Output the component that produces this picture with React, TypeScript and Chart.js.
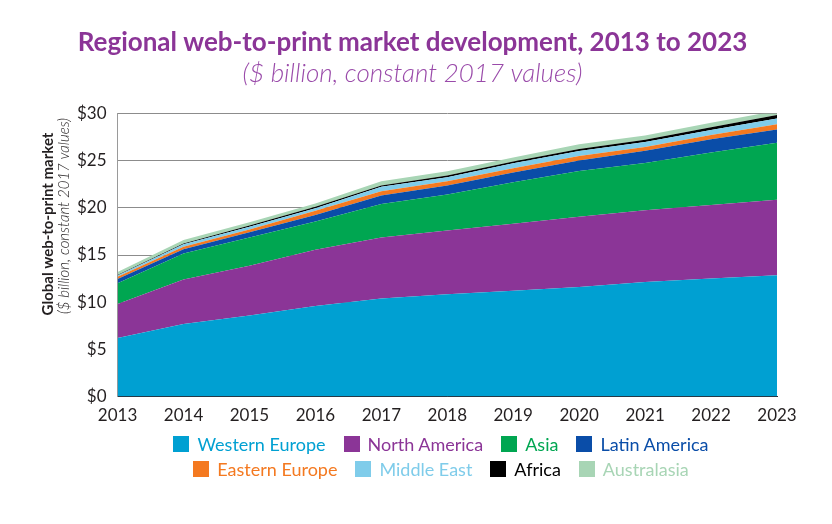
import React, { useEffect, useRef } from "react";
import { Chart, registerables } from "chart.js";

Chart.register(...registerables);

const years = ["2013", "2014", "2015", "2016", "2017", "2018", "2019", "2020", "2021", "2022", "2023"];
const westernEurope = [6.2, 7.7, 8.6, 9.6, 10.4, 10.85, 11.2, 11.6, 12.15, 12.5, 12.85];
const northAmerica = [3.6, 4.7, 5.25, 5.95, 6.45, 6.75, 7.1, 7.45, 7.6, 7.8, 8.0];
const asia = [2.2, 2.75, 3.0, 3.0, 3.55, 3.8, 4.4, 4.85, 5.0, 5.55, 6.05];
const latinAmerica = [0.45, 0.45, 0.55, 0.7, 0.9, 0.95, 1.05, 1.1, 1.3, 1.4, 1.4];
const easternEurope = [0.25, 0.28, 0.3, 0.43, 0.46, 0.46, 0.45, 0.49, 0.38, 0.46, 0.56];
const middleEast = [0.14, 0.25, 0.29, 0.28, 0.46, 0.43, 0.53, 0.53, 0.53, 0.53, 0.6];
const africa = [0.05, 0.1, 0.14, 0.14, 0.14, 0.17, 0.18, 0.21, 0.25, 0.28, 0.36];
const australasia = [0.3, 0.36, 0.35, 0.35, 0.46, 0.46, 0.43, 0.5, 0.46, 0.48, 0.46];

const seriesNames = ["Western Europe", "North America", "Asia", "Latin America", "Eastern Europe", "Middle East", "Africa", "Australasia"];
const seriesColors = ["#00A0D2", "#8B3597", "#00A651", "#0A4DA8", "#F47920", "#7FCCEA", "#000000", "#A8D5B5"];
const seriesData = [westernEurope, northAmerica, asia, latinAmerica, easternEurope, middleEast, africa, australasia];

const yTickValues = [0, 5, 10, 15, 20, 25, 30];

const titleText = "Regional web-to-print market development, 2013 to 2023";
const subtitleText = "($ billion, constant 2017 values)";
const yTitleBold = "Global web-to-print market";
const yTitleItalic = "($ billion, constant 2017 values)";

const FONT = "Lato, 'Open Sans', sans-serif";

const yTitlePlugin = {
  id: "yTitlePlugin",
  afterDraw(chart: any) {
    const ctx = chart.ctx;
    ctx.save();
    ctx.fillStyle = "#231F20";
    ctx.textAlign = "center";
    ctx.textBaseline = "middle";
    ctx.translate(48, 224);
    ctx.rotate(-Math.PI / 2);
    ctx.font = `bold 15px ${FONT}`;
    ctx.fillText(yTitleBold, 0, 0);
    ctx.font = `italic 300 15px ${FONT}`;
    ctx.fillText(yTitleItalic, 8, 16);
    ctx.restore();
  },
};

export default function App() {
  const ref = useRef<HTMLCanvasElement | null>(null);

  useEffect(() => {
    document.body.style.margin = "0";
    if (!ref.current) return;
    const chart = new Chart(ref.current, {
      type: "line",
      data: {
        labels: years,
        datasets: seriesData.map((d, i) => ({
          label: seriesNames[i],
          data: d,
          backgroundColor: seriesColors[i],
          borderColor: seriesColors[i],
          borderWidth: 0,
          pointRadius: 0,
          tension: 0,
          fill: i === 0 ? "origin" : "-1",
          clip: false as any,
        })),
      },
      options: {
        responsive: false,
        animation: false,
        layout: { padding: { left: 48, right: 55, top: 0, bottom: 3 } },
        plugins: {
          legend: { display: false },
          tooltip: { enabled: false },
          title: {
            display: true,
            text: titleText,
            color: "#8B3597",
            font: { family: FONT, size: 26, weight: "bold" },
            padding: { top: 27, bottom: 0 },
          },
          subtitle: {
            display: true,
            text: subtitleText,
            color: "#9A4BAA",
            font: { family: FONT, size: 26, weight: "300", style: "italic" },
            padding: { top: 0, bottom: 24 },
          },
        },
        scales: {
          x: {
            type: "category",
            offset: false,
            grid: { display: false, drawTicks: false },
            border: { display: true, color: "#2b2b33", width: 1 },
            ticks: { color: "#231F20", font: { family: FONT, size: 17 }, padding: 9, maxRotation: 0 },
          },
          y: {
            stacked: true,
            min: 0,
            max: 30,
            afterBuildTicks(scale: any) {
              scale.ticks = yTickValues.map((v) => ({ value: v }));
            },
            afterFit(scale: any) {
              scale.width += 18;
            },
            grid: {
              drawTicks: false,
              color: (c: any) => (c.tick && c.tick.value === 0 ? "#2b2b33" : "#8c8c8c"),
              lineWidth: 1,
            },
            border: { display: true, color: "#9a9a9a", width: 1 },
            ticks: {
              color: "#231F20",
              font: { family: FONT, size: 17 },
              padding: 11,
              callback: (v: any) => "$" + v,
            },
          },
        },
      },
      plugins: [yTitlePlugin],
    });
    return () => chart.destroy();
  }, []);

  const rows = [
    [0, 1, 2, 3],
    [4, 5, 6, 7],
  ];

  return (
    <div style={{ position: "absolute", left: 0, top: 0, width: 832, height: 524, background: "#fff" }}>
      <canvas ref={ref} width={832} height={438} style={{ display: "block" }} />
      <div style={{ position: "absolute", left: 0, top: 431, width: 832, fontFamily: FONT }}>
        {rows.map((row, ri) => (
          <div
            key={ri}
            style={{ display: "flex", justifyContent: "center", alignItems: "center", gap: 18, height: 25, transform: "translateX(25px)" }}
          >
            {row.map((i) => (
              <div key={i} style={{ display: "flex", alignItems: "center" }}>
                <span style={{ width: 16, height: 16, background: seriesColors[i], display: "inline-block", marginRight: 8 }} />
                <span style={{ color: seriesColors[i], fontSize: 18, lineHeight: "20px" }}>{seriesNames[i]}</span>
              </div>
            ))}
          </div>
        ))}
      </div>
    </div>
  );
}
